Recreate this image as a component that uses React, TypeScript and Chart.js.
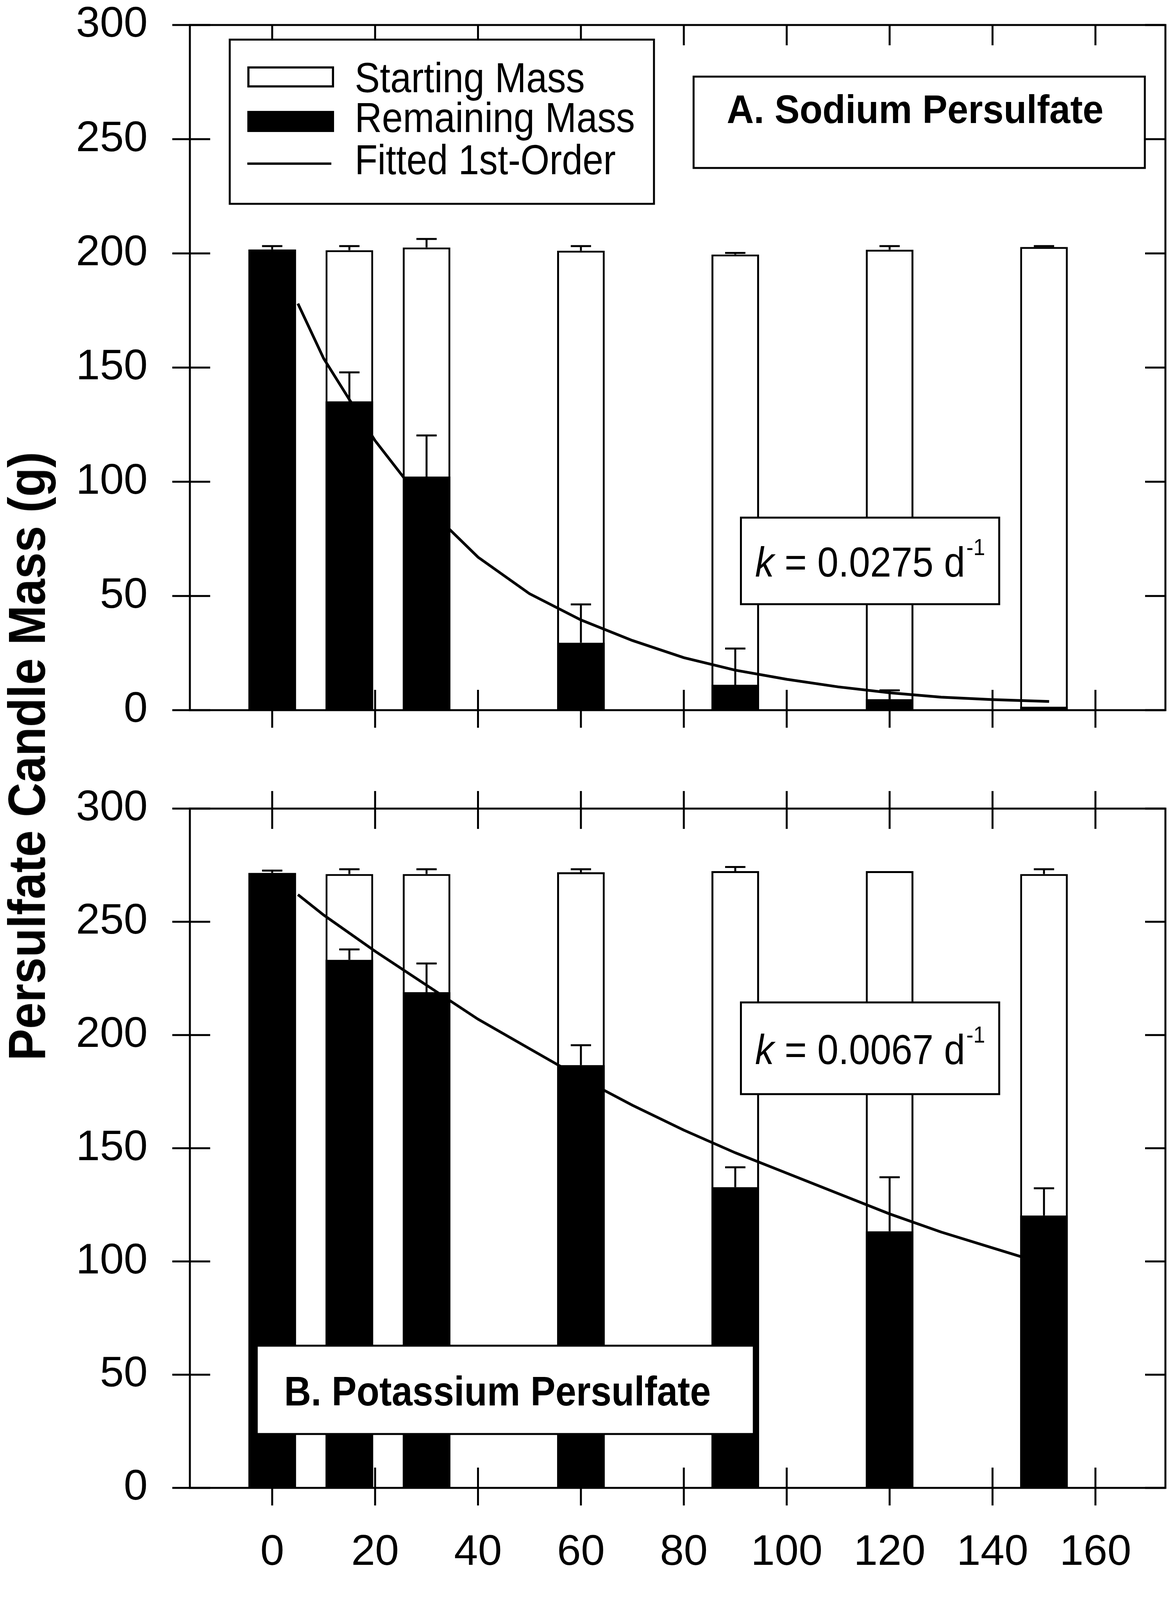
import React, { useEffect, useRef } from "react";
import { Chart, registerables } from "chart.js";

Chart.register(...registerables);

// ---------------- data ----------------
const days = [0, 15, 30, 60, 90, 120, 150];

const sodiumStart = [201.7, 201.4, 202.6, 201.2, 199.5, 201.6, 202.8];
const sodiumStartErr = [1.5, 1.8, 3.7, 2.0, 0.7, 1.6, 0.4];
const sodiumRemain = [201.7, 135.2, 102.3, 29.5, 11.1, 4.8, 1.5];
const sodiumRemainErr = [0, 12.7, 18.0, 16.8, 15.9, 3.9, 0];
const sodiumFitDays = [5, 10, 20, 30, 40, 50, 60, 70, 80, 90, 100, 110, 120, 130, 140, 151];
const sodiumFitMass = [178, 154, 118, 89, 67, 51, 39.5, 30.5, 23, 17.5, 13.5, 10.2, 7.6, 5.7, 4.6, 3.8];

const potassiumStart = [271.6, 271.1, 271.1, 271.9, 272.4, 272.4, 271.1];
const potassiumStartErr = [1.0, 2.1, 2.1, 1.3, 1.8, 0, 2.1];
const potassiumRemain = [271.6, 233.2, 218.9, 186.7, 132.8, 113.3, 120.3];
const potassiumRemainErr = [0, 4.6, 12.7, 8.8, 8.8, 23.9, 12.0];
const potassiumFitDays = [5, 10, 20, 30, 40, 50, 60, 70, 80, 90, 100, 110, 120, 130, 140, 150];
const potassiumFitMass = [262, 253, 237, 222, 207, 194, 181, 169, 158, 148, 139, 130, 121, 113, 106, 99];

const xTickValues = [0, 20, 40, 60, 80, 100, 120, 140, 160];
const yTickValues = [0, 50, 100, 150, 200, 250, 300];

const legendLabels = ["Starting Mass", "Remaining Mass", "Fitted 1st-Order"];
const panelTitles = ["A. Sodium Persulfate", "B. Potassium Persulfate"];
const rateValues = ["0.0275", "0.0067"];
const xAxisTitle = "Time (d)";
const yAxisTitle = "Persulfate Candle Mass (g)";

// ---------------- layout / style ----------------
const FONT = "'Liberation Sans', Arial, Helvetica, sans-serif";
const W = 3005;
const H = 4263;
const TOP_H = 1950;
const BOT_H = H - TOP_H;
const X_MIN = -16;
const X_MAX = 173.6;
const LW = 5;

type DBox = { x0: number; x1: number; y0: number; y1: number };

// boxes in data coordinates of their panel
const legendBox: DBox = { x0: -8.25, x1: 74.2, y0: 293.6, y1: 221.7 };
const titleBoxA: DBox = { x0: 81.9, x1: 169.6, y0: 277.4, y1: 237.4 };
const rateBoxA: DBox = { x0: 91.1, x1: 141.3, y0: 84.3, y1: 46.4 };
const titleBoxB: DBox = { x0: -3.0, x1: 93.6, y0: 62.8, y1: 23.8 };
const rateBoxB: DBox = { x0: 91.1, x1: 141.3, y0: 214.4, y1: 173.9 };

function boxPx(chart: any, b: DBox) {
  const { x, y } = chart.scales;
  return {
    l: x.getPixelForValue(b.x0),
    r: x.getPixelForValue(b.x1),
    t: y.getPixelForValue(b.y0),
    b: y.getPixelForValue(b.y1),
  };
}

function drawBox(ctx: CanvasRenderingContext2D, p: any) {
  ctx.save();
  ctx.fillStyle = "#fff";
  ctx.fillRect(p.l, p.t, p.r - p.l, p.b - p.t);
  ctx.strokeStyle = "#000";
  ctx.lineWidth = LW;
  ctx.strokeRect(p.l, p.t, p.r - p.l, p.b - p.t);
  ctx.restore();
}

function drawText(
  ctx: CanvasRenderingContext2D,
  text: string,
  x: number,
  y: number,
  font: string,
  sx: number,
  align: string = "left",
  maxW?: number
) {
  ctx.save();
  ctx.font = font;
  ctx.textAlign = "left";
  ctx.textBaseline = "alphabetic";
  const m = ctx.measureText(text).width;
  let s = sx;
  if (maxW && m * s > maxW) s = maxW / m;
  const w = m * s;
  const x0 = align === "center" ? x - w / 2 : align === "right" ? x - w : x;
  ctx.translate(x0, y);
  ctx.scale(s, 1);
  ctx.fillStyle = "#000";
  ctx.fillText(text, 0, 0);
  ctx.restore();
  return w;
}

function drawRate(ctx: CanvasRenderingContext2D, p: any, value: string) {
  const sx = 0.9;
  const fItal = `italic 108px ${FONT}`;
  const fReg = `108px ${FONT}`;
  const fSup = `60px ${FONT}`;
  const main = ` = ${value} d`;
  ctx.save();
  ctx.font = fItal;
  const wk = ctx.measureText("k").width * sx;
  ctx.font = fReg;
  const wm = ctx.measureText(main).width * sx;
  ctx.font = fSup;
  const ws = ctx.measureText("-1").width * sx;
  ctx.restore();
  const gap = 3;
  const total = wk + wm + gap + ws;
  const base = (p.t + p.b) / 2 + 40;
  let x = (p.l + p.r) / 2 - total / 2;
  drawText(ctx, "k", x, base, fItal, sx);
  x += wk;
  drawText(ctx, main, x, base, fReg, sx);
  x += wm + gap;
  drawText(ctx, "-1", x, base - 55, fSup, sx);
}

function drawLegend(ctx: CanvasRenderingContext2D, p: any) {
  drawBox(ctx, p);
  const sl = p.l + 45;
  const sw = 222;
  const sh = 54;
  ctx.save();
  ctx.fillStyle = "#000";
  ctx.fillRect(sl, p.t + 68.5, sw, sh);
  ctx.fillStyle = "#fff";
  ctx.fillRect(sl + 5.5, p.t + 68.5 + 5.5, sw - 11, sh - 11);
  ctx.fillStyle = "#000";
  ctx.fillRect(sl, p.t + 182.5, sw, sh);
  ctx.fillRect(sl, p.t + 317.5 - 3, 215, 6);
  ctx.restore();
  const f = `107px ${FONT}`;
  drawText(ctx, legendLabels[0], p.l + 320, p.t + 134.5, f, 0.9);
  drawText(ctx, legendLabels[1], p.l + 320, p.t + 236.5, f, 0.9);
  drawText(ctx, legendLabels[2], p.l + 320, p.t + 344.5, f, 0.9, "left", 668);
}

function makeFramePlugin(topOut: boolean) {
  return {
    id: "errorsFrame",
    afterDatasetsDraw(chart: any) {
      const { ctx, chartArea: a } = chart;
      const { x, y } = chart.scales;
      ctx.save();
      ctx.strokeStyle = "#000";
      ctx.lineCap = "butt";
      // error bars
      ctx.lineWidth = 5;
      chart.data.datasets.forEach((ds: any) => {
        if (!ds.errors) return;
        ds.data.forEach((pt: any, i: number) => {
          const e = ds.errors[i];
          if (!e) return;
          const px = x.getPixelForValue(pt.x);
          const y0 = y.getPixelForValue(pt.y);
          const y1 = y.getPixelForValue(pt.y + e);
          ctx.beginPath();
          ctx.moveTo(px, y0);
          ctx.lineTo(px, y1);
          ctx.moveTo(px - 26, y1);
          ctx.lineTo(px + 26, y1);
          ctx.stroke();
        });
      });
      // frame
      ctx.lineWidth = LW;
      ctx.strokeRect(a.left, a.top, a.right - a.left, a.bottom - a.top);
      // tick marks
      const inL = 52;
      const outL = 45;
      ctx.beginPath();
      for (const t of x.ticks) {
        const px = x.getPixelForValue(t.value);
        ctx.moveTo(px, a.bottom + outL);
        ctx.lineTo(px, a.bottom - inL);
        ctx.moveTo(px, a.top - (topOut ? outL : 0));
        ctx.lineTo(px, a.top + inL);
      }
      for (const t of y.ticks) {
        const py = y.getPixelForValue(t.value);
        ctx.moveTo(a.left - outL, py);
        ctx.lineTo(a.left + inL, py);
        ctx.moveTo(a.right, py);
        ctx.lineTo(a.right - inL, py);
      }
      ctx.stroke();
      ctx.restore();
    },
  };
}

function makeOverlayPlugin(panel: number) {
  return {
    id: "overlayBoxes",
    afterDraw(chart: any) {
      const ctx = chart.ctx as CanvasRenderingContext2D;
      const a = chart.chartArea;
      if (panel === 0) {
        drawLegend(ctx, boxPx(chart, legendBox));
        const pa = boxPx(chart, titleBoxA);
        drawBox(ctx, pa);
        drawText(ctx, panelTitles[0], pa.l + 85, pa.t + 119, `bold 102px ${FONT}`, 0.94);
        const pr = boxPx(chart, rateBoxA);
        drawBox(ctx, pr);
        drawRate(ctx, pr, rateValues[0]);
      } else {
        const pb = boxPx(chart, titleBoxB);
        drawBox(ctx, pb);
        drawText(ctx, panelTitles[1], pb.l + 70, pb.t + 153, `bold 106px ${FONT}`, 0.9);
        const pr = boxPx(chart, rateBoxB);
        drawBox(ctx, pr);
        drawRate(ctx, pr, rateValues[1]);
        // x axis title
        drawText(ctx, xAxisTitle, (a.left + a.right) / 2, a.bottom + 413, `bold 134px ${FONT}`, 0.9, "center");
      }
    },
  };
}

function makeConfig(panel: number): any {
  const isTop = panel === 0;
  const start = isTop ? sodiumStart : potassiumStart;
  const startErr = isTop ? sodiumStartErr : potassiumStartErr;
  const remain = isTop ? sodiumRemain : potassiumRemain;
  const remainErr = isTop ? sodiumRemainErr : potassiumRemainErr;
  const fitDays = isTop ? sodiumFitDays : potassiumFitDays;
  const fitMass = isTop ? sodiumFitMass : potassiumFitMass;
  const canvasH = isTop ? TOP_H : BOT_H;
  const padTop = isTop ? 64 : 120;
  const areaBottom = isTop ? 1818 : 3809 - TOP_H;
  const tickFont = { family: FONT, size: 110 };

  return {
    type: "bar",
    data: {
      datasets: [
        {
          type: "line",
          label: legendLabels[2],
          data: fitDays.map((d, i) => ({ x: d, y: fitMass[i] })),
          borderColor: "#000",
          borderWidth: 7,
          pointRadius: 0,
          tension: 0,
          fill: false,
          order: 0,
        },
        {
          type: "bar",
          label: legendLabels[1],
          data: days.map((d, i) => ({ x: d, y: remain[i] })),
          backgroundColor: "#000",
          borderColor: "#000",
          borderWidth: 0,
          grouped: false,
          barPercentage: 0.617,
          categoryPercentage: 1,
          order: 1,
          errors: remainErr,
        },
        {
          type: "bar",
          label: legendLabels[0],
          data: days.map((d, i) => ({ x: d, y: start[i] })),
          backgroundColor: "#fff",
          borderColor: "#000",
          borderWidth: LW,
          borderSkipped: false,
          grouped: false,
          barPercentage: 0.617,
          categoryPercentage: 1,
          order: 2,
          errors: startErr,
        },
      ],
    },
    options: {
      responsive: false,
      animation: false,
      devicePixelRatio: 1,
      events: [],
      layout: { padding: { left: 0, right: 22, top: padTop, bottom: 0 } },
      plugins: {
        legend: { display: false },
        tooltip: { enabled: false },
        title: { display: false },
      },
      scales: {
        x: {
          type: "linear",
          min: X_MIN,
          max: X_MAX,
          offset: false,
          afterBuildTicks: (s: any) => {
            s.ticks = xTickValues.map((v) => ({ value: v }));
          },
          afterFit: (s: any) => {
            s.height = canvasH - areaBottom;
            s.paddingLeft = 0;
            s.paddingRight = 0;
            s.paddingTop = 0;
            s.paddingBottom = 0;
          },
          grid: { display: false, drawTicks: false, offset: false },
          border: { display: false },
          ticks: {
            display: !isTop,
            padding: 101,
            font: tickFont,
            color: "#000",
            autoSkip: false,
            minRotation: 0,
            maxRotation: 0,
          },
          title: { display: false },
        },
        y: {
          type: "linear",
          min: 0,
          max: 300,
          afterBuildTicks: (s: any) => {
            s.ticks = yTickValues.map((v) => ({ value: v }));
          },
          afterFit: (s: any) => {
            s.width = 486;
            s.paddingTop = 0;
            s.paddingBottom = 0;
            s.paddingLeft = 0;
            s.paddingRight = 0;
          },
          grid: { display: false, drawTicks: false },
          border: { display: false },
          ticks: {
            padding: 108,
            font: tickFont,
            color: "#000",
            autoSkip: false,
          },
        },
      },
    },
    plugins: [makeFramePlugin(!isTop), makeOverlayPlugin(panel)],
  };
}

export default function App() {
  const topRef = useRef<HTMLCanvasElement>(null);
  const botRef = useRef<HTMLCanvasElement>(null);

  useEffect(() => {
    const c1 = new Chart(topRef.current as HTMLCanvasElement, makeConfig(0));
    const c2 = new Chart(botRef.current as HTMLCanvasElement, makeConfig(1));
    return () => {
      c1.destroy();
      c2.destroy();
    };
  }, []);

  return (
    <div
      style={{
        position: "absolute",
        left: 0,
        top: 0,
        width: W,
        height: H,
        background: "#fff",
        overflow: "hidden",
      }}
    >
      <canvas
        ref={topRef}
        width={W}
        height={TOP_H}
        style={{ position: "absolute", left: 0, top: 0, width: W, height: TOP_H }}
      />
      <canvas
        ref={botRef}
        width={W}
        height={BOT_H}
        style={{ position: "absolute", left: 0, top: TOP_H, width: W, height: BOT_H }}
      />
      <div
        style={{
          position: "absolute",
          left: 68.6,
          top: 1936,
          transform: "translate(-50%, -50%) rotate(-90deg) scaleX(0.91)",
          font: `bold 134px ${FONT}`,
          lineHeight: 1,
          whiteSpace: "nowrap",
          color: "#000",
        }}
      >
        {yAxisTitle}
      </div>
    </div>
  );
}
